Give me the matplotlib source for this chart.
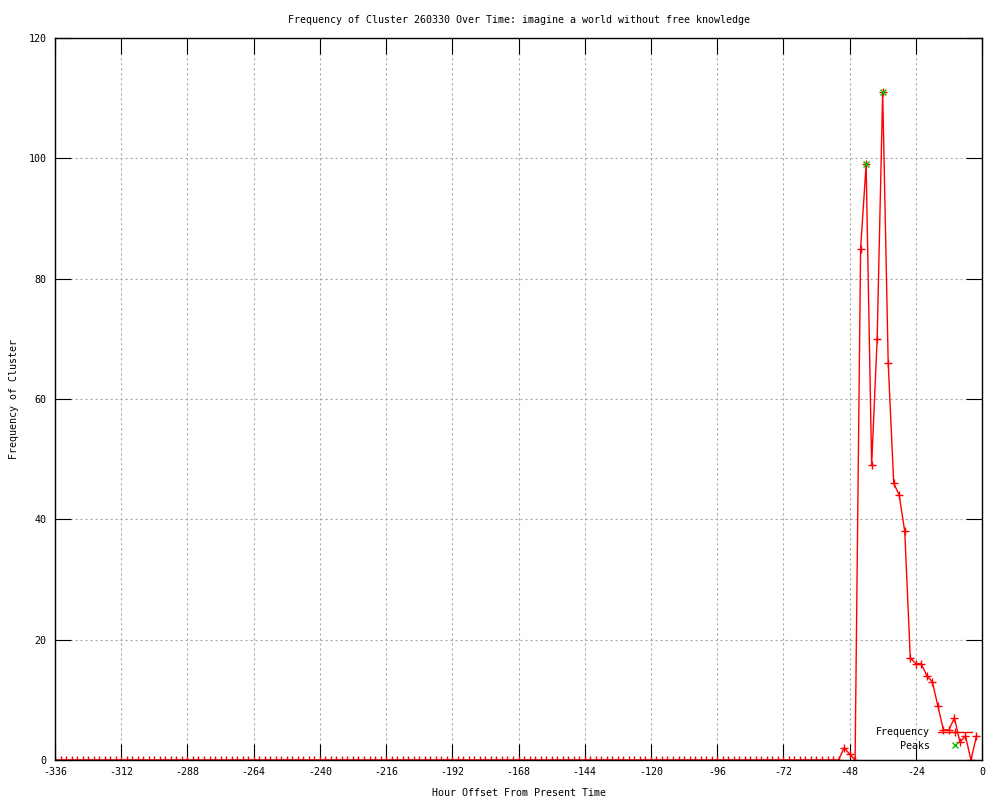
import numpy as np
import matplotlib
matplotlib.use("Agg")
import matplotlib.pyplot as plt

# ---- data ----
hours = np.arange(-336, 0, 2)  # every 2 hours, -336 .. -2
frequency = [
    0, 0, 0, 0, 0, 0, 0, 0, 0, 0, 0, 0, 0, 0, 0, 0, 0, 0, 0, 0,
    0, 0, 0, 0, 0, 0, 0, 0, 0, 0, 0, 0, 0, 0, 0, 0, 0, 0, 0, 0,
    0, 0, 0, 0, 0, 0, 0, 0, 0, 0, 0, 0, 0, 0, 0, 0, 0, 0, 0, 0,
    0, 0, 0, 0, 0, 0, 0, 0, 0, 0, 0, 0, 0, 0, 0, 0, 0, 0, 0, 0,
    0, 0, 0, 0, 0, 0, 0, 0, 0, 0, 0, 0, 0, 0, 0, 0, 0, 0, 0, 0,
    0, 0, 0, 0, 0, 0, 0, 0, 0, 0, 0, 0, 0, 0, 0, 0, 0, 0, 0, 0,
    0, 0, 0, 0, 0, 0, 0, 0, 0, 0, 0, 0, 0, 0, 0, 0, 0, 0, 0, 0,
    0, 0, 0,
    2, 1, 0, 85, 99, 49, 70, 111, 66, 46, 44, 38, 17, 16, 16, 14,
    13, 9, 5, 5, 7, 3, 4, 0, 4,
]
peak_hours = [-42, -36]
peak_values = [99, 111]

xticks = list(range(-336, 1, 24))
yticks = list(range(0, 121, 20))

title = "Frequency of Cluster 260330 Over Time: imagine a world without free knowledge"
xlabel = "Hour Offset From Present Time"
ylabel = "Frequency of Cluster"

# ---- plot ----
plt.rcParams['font.family'] = ['DejaVu Sans Mono']
plt.rcParams['axes.unicode_minus'] = False
fs = 7.2

fig = plt.figure(figsize=(10, 8), dpi=100)
ax = fig.add_axes([0.055, 0.05, 0.927, 0.9025])

ax.plot(hours, frequency, color='red', linewidth=1, marker='+',
        markersize=6, markeredgewidth=1, label='Frequency')
ax.plot(peak_hours, peak_values, linestyle='none', color='#00c000', marker='x',
        markersize=5, markeredgewidth=1, label='Peaks')

ax.set_xlim(-336, 0)
ax.set_ylim(0, 120)
ax.set_xticks(xticks)
ax.set_yticks(yticks)
ax.tick_params(direction='in', length=11.5, width=0.8, top=True, right=True,
               labelsize=fs, colors='black')
ax.tick_params(axis='x', pad=5)
ax.tick_params(axis='y', pad=6)

ax.grid(True, color='#a8a8a8', linestyle=(0, (2, 2.5)), linewidth=0.8)
ax.set_axisbelow(True)
for s in ax.spines.values():
    s.set_linewidth(1)
    s.set_color('black')

ax.set_title(title, fontsize=fs, pad=11)
ax.set_xlabel(xlabel, fontsize=fs, labelpad=8)
ax.set_ylabel(ylabel, fontsize=fs, labelpad=7)

leg = ax.legend(loc='lower right', bbox_to_anchor=(0.9895, 0.013), frameon=False,
                markerfirst=False, fontsize=fs, handlelength=3.4,
                handletextpad=0.8, labelspacing=0.35, borderpad=0,
                borderaxespad=0)
for t in leg.get_texts():
    t.set_ha('right')

fig.savefig('out.png', dpi=100)
